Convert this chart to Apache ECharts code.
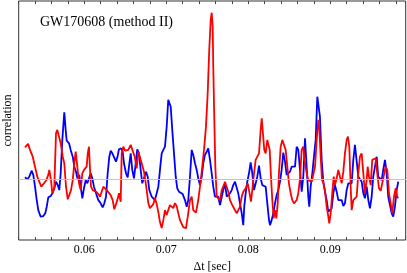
<!DOCTYPE html>
<html><head><meta charset="utf-8">
<script src="https://cdn.jsdelivr.net/npm/echarts@6/dist/echarts.min.js"></script>
<style>html,body{margin:0;padding:0;background:#fff}#c{width:407px;height:273px}</style>
</head><body><div id="c"></div>
<script>
const titleText = 'GW170608 (method II)';
const xName = 'Δt [sec]';
const yName = 'correlation';
const xTickLabels = [0.06, 0.07, 0.08, 0.09];

const redT = [
0.05277,0.05314,0.05338,0.05371,0.05399,0.05427,0.05451,0.05476,0.05500,0.05533,
0.05561,0.05573,0.05594,0.05610,0.05634,0.05655,0.05671,0.05695,0.05712,0.05737,
0.05756,0.05777,0.05798,0.05817,0.05838,0.05859,0.05878,0.05895,0.05915,0.05935,
0.05956,0.05976,0.05996,0.06017,0.06029,0.06042,0.06057,0.06070,0.06082,0.06103,
0.06118,0.06143,0.06171,0.06192,0.06212,0.06232,0.06253,0.06273,0.06293,0.06322,
0.06346,0.06366,0.06387,0.06403,0.06423,0.06444,0.06456,0.06476,0.06496,0.06517,
0.06537,0.06566,0.06590,0.06615,0.06639,0.06659,0.06679,0.06700,0.06728,0.06753,
0.06781,0.06801,0.06822,0.06842,0.06862,0.06883,0.06903,0.06923,0.06944,0.06964,
0.06984,0.07005,0.07024,0.07045,0.07066,0.07085,0.07106,0.07127,0.07146,0.07167,
0.07207,0.07240,0.07268,0.07289,0.07310,0.07329,0.07362,0.07390,0.07411,0.07439,
0.07460,0.07484,0.07505,0.07524,0.07542,0.07554,0.07566,0.07573,0.07585,0.07598,
0.07615,0.07634,0.07655,0.07676,0.07695,0.07716,0.07737,0.07756,0.07777,0.07805,
0.07829,0.07859,0.07878,0.07899,0.07920,0.07939,0.07968,0.07993,0.08012,0.08033,
0.08049,0.08070,0.08090,0.08110,0.08131,0.08151,0.08164,0.08179,0.08195,0.08212,
0.08232,0.08244,0.08261,0.08277,0.08293,0.08310,0.08326,0.08342,0.08359,0.08374,
0.08395,0.08415,0.08435,0.08456,0.08476,0.08496,0.08517,0.08537,0.08557,0.08576,
0.08590,0.08610,0.08631,0.08651,0.08671,0.08692,0.08712,0.08732,0.08753,0.08773,
0.08793,0.08814,0.08834,0.08854,0.08866,0.08883,0.08899,0.08915,0.08935,0.08956,
0.08976,0.08988,0.09005,0.09024,0.09042,0.09057,0.09078,0.09098,0.09118,0.09139,
0.09159,0.09179,0.09200,0.09216,0.09232,0.09249,0.09261,0.09281,0.09301,0.09322,
0.09342,0.09362,0.09383,0.09403,0.09423,0.09444,0.09456,0.09472,0.09493,0.09512,
0.09533,0.09554,0.09573,0.09594,0.09615,0.09634,0.09655,0.09676,0.09695,0.09716,
0.09737,0.09756,0.09777,0.09798,0.09817,0.09829];
const redV = [
0.160,0.177,0.147,0.113,0.063,0.013,-0.012,-0.037,-0.024,-0.007,
0.022,0.047,-0.004,-0.070,-0.045,0.230,0.247,0.250,0.180,0.113,
0.080,-0.037,-0.100,-0.090,-0.054,-0.004,0.080,0.138,0.063,-0.020,
-0.054,0.030,0.047,0.043,0.063,0.130,0.163,0.047,-0.037,-0.054,
-0.045,-0.062,-0.074,-0.087,-0.062,-0.037,-0.045,-0.054,-0.062,-0.079,
-0.104,-0.150,-0.140,-0.104,-0.070,-0.112,0.130,0.163,0.143,0.138,
0.147,0.172,0.163,0.113,0.055,0.138,0.130,0.080,0.038,-0.029,
-0.119,-0.144,-0.134,-0.124,-0.094,-0.124,-0.164,-0.214,-0.244,-0.204,
-0.154,-0.179,-0.154,-0.129,-0.139,-0.144,-0.119,-0.134,-0.169,-0.204,
-0.239,-0.245,-0.169,-0.104,-0.087,-0.154,-0.167,-0.104,-0.037,0.063,
0.147,0.263,0.430,0.647,0.797,0.833,0.763,0.563,0.313,0.063,
-0.087,-0.079,-0.104,-0.054,-0.037,-0.012,-0.012,-0.062,-0.104,-0.129,
-0.134,-0.170,-0.179,-0.137,-0.087,-0.062,-0.045,-0.020,-0.062,-0.112,
-0.054,0.030,0.097,0.113,0.130,0.247,0.305,0.230,0.147,0.130,
0.197,0.205,0.147,0.013,-0.104,-0.195,-0.154,-0.195,-0.120,0.030,
0.163,0.197,0.197,0.147,0.063,-0.020,-0.070,-0.104,-0.120,-0.119,
-0.104,-0.070,0.005,0.147,0.163,0.080,0.030,-0.004,-0.012,-0.012,
-0.004,0.063,0.197,0.297,0.255,0.113,-0.004,-0.017,-0.054,-0.137,
-0.187,-0.220,-0.170,-0.070,0.013,-0.029,0.005,0.047,0.013,-0.020,
0.038,0.130,0.197,0.213,0.163,-0.037,-0.154,-0.104,-0.112,-0.087,
0.030,0.113,0.130,0.030,-0.070,-0.004,0.063,0.013,-0.029,0.097,
0.088,0.105,0.030,-0.045,-0.057,-0.054,0.022,0.063,0.047,-0.070,
-0.120,-0.170,-0.087,-0.045,-0.087,-0.095];

const blueT = [
0.05277,0.05305,0.05329,0.05359,0.05378,0.05399,0.05420,0.05439,0.05468,0.05500,
0.05524,0.05542,0.05561,0.05590,0.05615,0.05634,0.05655,0.05676,0.05695,0.05712,
0.05732,0.05756,0.05773,0.05785,0.05814,0.05834,0.05859,0.05878,0.05899,0.05915,
0.05939,0.05956,0.05976,0.05996,0.06017,0.06037,0.06057,0.06078,0.06098,0.06118,
0.06143,0.06171,0.06200,0.06224,0.06244,0.06265,0.06285,0.06305,0.06322,0.06342,
0.06362,0.06387,0.06407,0.06423,0.06448,0.06468,0.06484,0.06509,0.06529,0.06545,
0.06566,0.06585,0.06606,0.06627,0.06646,0.06667,0.06688,0.06707,0.06728,0.06753,
0.06773,0.06793,0.06822,0.06842,0.06862,0.06883,0.06903,0.06923,0.06944,0.06964,
0.06984,0.07005,0.07024,0.07037,0.07054,0.07073,0.07094,0.07115,0.07134,0.07155,
0.07176,0.07200,0.07228,0.07249,0.07268,0.07289,0.07310,0.07329,0.07350,0.07371,
0.07390,0.07411,0.07432,0.07451,0.07472,0.07493,0.07512,0.07533,0.07554,0.07573,
0.07594,0.07615,0.07634,0.07655,0.07676,0.07695,0.07716,0.07737,0.07756,0.07777,
0.07798,0.07817,0.07838,0.07859,0.07878,0.07899,0.07920,0.07939,0.07951,0.07968,
0.07988,0.08009,0.08029,0.08049,0.08070,0.08090,0.08110,0.08131,0.08151,0.08171,
0.08192,0.08212,0.08232,0.08253,0.08265,0.08285,0.08305,0.08326,0.08346,0.08366,
0.08387,0.08407,0.08427,0.08448,0.08468,0.08488,0.08509,0.08529,0.08549,0.08570,
0.08590,0.08610,0.08631,0.08651,0.08671,0.08692,0.08712,0.08732,0.08744,0.08761,
0.08781,0.08801,0.08822,0.08842,0.08854,0.08874,0.08895,0.08915,0.08935,0.08956,
0.08976,0.08996,0.09017,0.09037,0.09057,0.09078,0.09098,0.09118,0.09139,0.09159,
0.09179,0.09200,0.09220,0.09240,0.09261,0.09281,0.09301,0.09322,0.09342,0.09362,
0.09383,0.09403,0.09423,0.09444,0.09464,0.09484,0.09505,0.09524,0.09545,0.09566,
0.09585,0.09606,0.09627,0.09646,0.09667,0.09688,0.09707,0.09728,0.09749,0.09768,
0.09789,0.09810,0.09829];
const blueV = [
0.010,0.000,0.013,0.043,0.022,-0.037,-0.104,-0.154,-0.187,-0.184,
-0.170,-0.137,-0.090,-0.084,-0.067,-0.045,-0.012,-0.029,-0.054,0.030,
0.197,0.335,0.247,0.193,0.180,0.147,0.113,0.063,0.038,0.005,
0.022,-0.037,-0.095,-0.045,-0.004,-0.020,-0.012,0.030,0.005,-0.037,
-0.070,-0.104,-0.120,-0.140,-0.120,-0.087,0.030,0.113,0.143,0.130,
0.130,0.088,0.117,0.150,0.155,0.138,0.080,0.030,0.010,0.063,
0.130,0.047,0.005,0.080,0.150,0.130,0.047,-0.020,0.005,0.038,
0.013,-0.054,-0.087,-0.095,-0.104,-0.112,-0.037,0.047,0.130,0.147,
0.163,0.263,0.397,0.405,0.363,0.247,0.130,0.013,-0.045,-0.062,
-0.070,-0.074,-0.104,-0.137,-0.104,0.013,0.147,0.122,0.080,0.047,
0.005,-0.029,0.013,0.080,0.122,0.138,0.155,0.097,0.030,-0.037,
-0.087,-0.084,-0.087,-0.129,-0.137,-0.054,-0.020,-0.087,-0.095,-0.070,
-0.054,-0.029,-0.012,-0.020,-0.070,-0.120,-0.170,-0.229,-0.137,-0.070,
-0.012,0.030,0.085,0.030,-0.054,-0.057,0.013,0.068,0.005,-0.029,
-0.029,-0.037,-0.120,-0.204,-0.229,-0.204,-0.170,-0.120,-0.079,-0.054,
-0.012,0.047,0.133,0.088,0.022,0.027,0.038,0.063,0.072,0.063,
0.163,0.147,0.047,-0.062,0.013,0.205,0.063,-0.087,-0.137,-0.037,
0.030,0.113,0.197,0.413,0.417,0.313,0.097,-0.012,-0.062,-0.104,
-0.162,-0.170,-0.145,-0.070,-0.029,-0.062,-0.104,-0.112,-0.104,-0.134,
-0.120,-0.054,-0.020,-0.012,-0.020,0.097,0.172,0.163,0.013,0.022,
-0.012,-0.070,-0.095,-0.037,-0.104,-0.145,-0.087,0.013,0.063,0.113,
0.013,0.005,-0.004,0.047,0.097,0.030,-0.087,-0.129,-0.170,-0.187,
-0.137,-0.054,-0.012];

const pairs = (t, v) => t.map((x, i) => [x, v[i]]);
const serif = 'Liberation Serif';
const isMajor = v => xTickLabels.some(t => Math.abs(t - v) < 1e-7);

const chart = echarts.init(document.getElementById('c'), null, {renderer: 'canvas'});
const xCommon = {
  type: 'value', min: 0.052, max: 0.0992, interval: 0.002,
  axisLine: {show: false, onZero: false},
  axisTick: {show: true, inside: true, length: 3, lineStyle: {color: '#444', width: 1}},
  splitLine: {show: false}
};
chart.setOption({
  animation: false,
  backgroundColor: '#fff',
  grid: {left: 18.7, right: 1.3, top: 1, bottom: 33, containLabel: false, outerBoundsMode: 'none',
    show: true, borderColor: '#333', borderWidth: 1, backgroundColor: 'transparent'},
  title: {text: titleText, left: 35, top: 10,
    textStyle: {fontFamily: serif, fontSize: 14, fontWeight: 'normal', color: '#000'}},
  xAxis: [
    Object.assign({}, xCommon, {
      position: 'bottom',
      axisLabel: {show: true, margin: 4, fontFamily: serif, fontSize: 12, color: '#000',
        formatter: v => isMajor(v) ? v.toFixed(2) : ''},
      name: xName, nameLocation: 'middle', nameGap: 21,
      nameTextStyle: {fontFamily: serif, fontSize: 12, color: '#000'}
    }),
    Object.assign({}, xCommon, {position: 'top', axisLabel: {show: false}})
  ],
  yAxis: [{
    type: 'value', min: -0.3035, max: 0.8915,
    axisLine: {show: false, onZero: false}, axisTick: {show: false}, axisLabel: {show: false}, splitLine: {show: false},
    name: yName, nameLocation: 'middle', nameGap: 4.5, nameRotate: 90,
    nameTextStyle: {fontFamily: serif, fontSize: 12, color: '#000'}
  }],
  series: [
    {type: 'line', data: [], z: 1, silent: true,
      markLine: {silent: true, symbol: ['none', 'none'], label: {show: false},
        lineStyle: {color: '#c4c4c4', width: 1, type: 'solid'}, data: [{yAxis: 0}]}},
    {type: 'line', name: 'blue', data: pairs(blueT, blueV), showSymbol: false, z: 2,
      lineStyle: {color: '#0000ff', width: 1.8}, itemStyle: {color: '#0000ff'}},
    {type: 'line', name: 'red', data: pairs(redT, redV), showSymbol: false, z: 3,
      lineStyle: {color: '#ff0000', width: 1.8}, itemStyle: {color: '#ff0000'}}
  ]
});
</script>
</body></html>
